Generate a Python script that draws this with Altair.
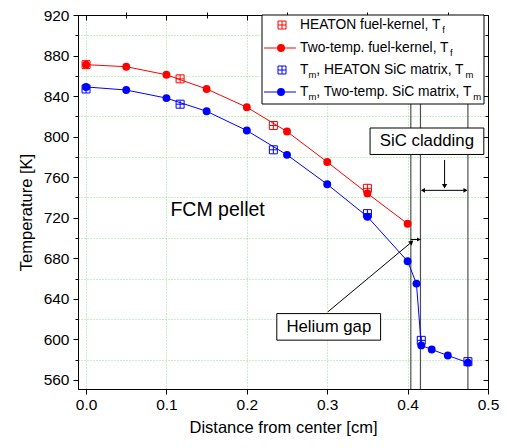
import altair as alt
import pandas as pd

# ---------------- data ----------------
x_tt_fuel = [0.0, 0.05, 0.10, 0.15, 0.20, 0.25, 0.30, 0.35, 0.40]
T_tt_fuel = [871, 869, 861, 847, 829, 805, 775, 744, 714]

x_tt_mat = [0.0, 0.05, 0.10, 0.15, 0.20, 0.25, 0.30, 0.35, 0.40, 0.411, 0.417, 0.43, 0.45, 0.475]
T_tt_mat = [849, 846, 838, 825, 806, 782, 753, 721, 677, 655, 594, 590, 584, 577]

x_h_fuel = [0.0, 0.117, 0.233, 0.35]
T_h_fuel = [871, 857, 811, 749]

x_h_mat = [0.0, 0.117, 0.233, 0.35, 0.417, 0.475]
T_h_mat = [847, 832, 787, 724, 599, 578]

boundaries = [0.404, 0.416, 0.475]

x_major = [0.0, 0.1, 0.2, 0.3, 0.4, 0.5]
x_grid = [0.0, 0.1, 0.2, 0.3, 0.4]
x_minor = [0.05, 0.15, 0.25, 0.35, 0.45]
y_major = [560, 600, 640, 680, 720, 760, 800, 840, 880, 920]
y_minor = [580, 620, 660, 700, 740, 780, 820, 860, 900]

legend_rows = [
    ("HEATON fuel-kernel, T", "f"),
    ("Two-temp. fuel-kernel, T", "f"),
    (", HEATON SiC matrix, T", "m"),
    (", Two-temp. SiC matrix, T", "m"),
]

RED = "#ff0000"
BLUE = "#0000ff"
GRID = "#86e486"
FONT = "Liberation Sans"

XS = alt.Scale(domain=[-0.01, 0.5], nice=False, zero=False)
YS = alt.Scale(domain=[551, 920], nice=False, zero=False)

SQ = "M-1,-1L1,-1L1,1L-1,1Z M0,-1L0,1 M-1,0L1,0"

def df(xs, ys):
    return pd.DataFrame({"x": xs, "y": ys})

def ax_hidden(**kw):
    base = dict(labels=False, title=None, domain=False, grid=False)
    base.update(kw)
    return alt.Axis(**base)

# ---- boundary lines (carry the vertical grid) ----
vrules = alt.Chart(pd.DataFrame({"x": boundaries})).mark_rule(
    color="#505050", strokeWidth=1.2
).encode(
    x=alt.X("x:Q", scale=XS,
            axis=ax_hidden(values=x_grid, ticks=False, grid=True, gridColor=GRID,
                           gridDash=[1, 2], gridWidth=1))
)

# ---- HEATON squares ----
red_sq = alt.Chart(df(x_h_fuel, T_h_fuel)).mark_point(
    shape=SQ, size=64, filled=False, color=RED, strokeWidth=1, opacity=1
).encode(
    x=alt.X("x:Q", scale=XS, axis=ax_hidden(values=x_minor, ticks=True, tickSize=3,
                                            tickColor="black")),
    y=alt.Y("y:Q", scale=YS, axis=ax_hidden(values=y_minor, ticks=True, tickSize=3,
                                            tickColor="black", grid=True, gridColor=GRID,
                                            gridDash=[1, 2], gridWidth=1)),
)

blue_sq = alt.Chart(df(x_h_mat, T_h_mat)).mark_point(
    shape=SQ, size=64, filled=False, color=BLUE, strokeWidth=1, opacity=1
).encode(
    x=alt.X("x:Q", scale=XS, axis=ax_hidden(orient="top", values=x_major, ticks=True,
                                            tickSize=5, offset=-5, tickColor="black")),
    y=alt.Y("y:Q", scale=YS, axis=ax_hidden(orient="right", values=y_major, ticks=True,
                                            tickSize=5, offset=-5, tickColor="black")),
)

# ---- two-temperature lines and points ----
red_line = alt.Chart(df(x_tt_fuel, T_tt_fuel)).mark_line(color=RED, strokeWidth=1).encode(
    x=alt.X("x:Q", scale=XS, axis=ax_hidden(orient="top", values=x_minor, ticks=True,
                                            tickSize=3, offset=-3, tickColor="black")),
    y=alt.Y("y:Q", scale=YS, axis=ax_hidden(orient="right", values=y_minor, ticks=True,
                                            tickSize=3, offset=-3, tickColor="black")),
)
red_pts = alt.Chart(df(x_tt_fuel, T_tt_fuel)).mark_point(
    shape="circle", size=62, filled=True, color=RED, opacity=1
).encode(
    x=alt.X("x:Q", scale=XS,
            axis=alt.Axis(values=x_major, format=".1f", title="Distance from center [cm]",
                          grid=False, tickSize=5, labelPadding=3, titlePadding=7,
                          labelFlush=False,
                          domainColor="black", tickColor="black", labelColor="black",
                          titleColor="black")),
    y=alt.Y("y:Q", scale=YS,
            axis=alt.Axis(values=y_major, format="d", title="Temperature [K]",
                          grid=False, tickSize=5, labelPadding=4, titlePadding=9,
                          labelFlush=False, titleY=197,
                          domainColor="black", tickColor="black", labelColor="black",
                          titleColor="black")),
)
blue_line = alt.Chart(df(x_tt_mat, T_tt_mat)).mark_line(color=BLUE, strokeWidth=1).encode(
    x=alt.X("x:Q", scale=XS, axis=None), y=alt.Y("y:Q", scale=YS, axis=None)
)
blue_pts = alt.Chart(df(x_tt_mat, T_tt_mat)).mark_point(
    shape="circle", size=62, filled=True, color=BLUE, opacity=1
).encode(
    x=alt.X("x:Q", scale=XS, axis=None), y=alt.Y("y:Q", scale=YS, axis=None)
)

# ---- annotations (data coordinates) ----
def seg(x1, y1, x2, y2):
    return alt.Chart(pd.DataFrame({"x": [x1], "y": [y1], "x2": [x2], "y2": [y2]})).mark_rule(
        color="black", strokeWidth=1
    ).encode(x=alt.X("x:Q", scale=XS, axis=None), y=alt.Y("y:Q", scale=YS, axis=None),
             x2="x2:Q", y2="y2:Q")

def head(x, y, shape, angle=0, size=28):
    return alt.Chart(df([x], [y])).mark_point(
        shape=shape, size=size, filled=True, color="black", opacity=1, angle=angle
    ).encode(x=alt.X("x:Q", scale=XS, axis=None), y=alt.Y("y:Q", scale=YS, axis=None))

def box(x1, x2, y1, y2):
    return alt.Chart(pd.DataFrame({"x": [x1], "x2": [x2], "y": [y1], "y2": [y2]})).mark_rect(
        fill="white", stroke="black", strokeWidth=1
    ).encode(x=alt.X("x:Q", scale=XS, axis=None), x2="x2:Q",
             y=alt.Y("y:Q", scale=YS, axis=None), y2="y2:Q")

def label(x, y, txt, size, align="center"):
    return alt.Chart(df([x], [y])).mark_text(
        text=txt, fontSize=size, align=align, baseline="middle", color="black", font=FONT
    ).encode(x=alt.X("x:Q", scale=XS, axis=None), y=alt.Y("y:Q", scale=YS, axis=None))

annots = [
    label(0.105, 728, "FCM pellet", 19.5, align="left"),
    box(0.3533, 0.4948, 782.4, 808.5),
    label(0.424, 795.5, "SiC cladding", 16.8),
    seg(0.446, 777, 0.446, 752),
    head(0.446, 751, "triangle-down"),
    seg(0.418, 747, 0.473, 747),
    head(0.419, 747, "triangle-left", size=22),
    head(0.472, 747, "triangle-right", size=22),
    seg(0.404, 698.5, 0.416, 698.5),
    head(0.414, 698.5, "triangle-right", size=18),
    seg(0.3006, 627, 0.405, 696),
    head(0.405, 696, "triangle-up", angle=50, size=26),
    box(0.2373, 0.3664, 599.2, 625.4),
    label(0.302, 612.3, "Helium gap", 16.8),
]

# ---- manual legend (pixel coordinates of the plot area) ----
W = {"T": 611, "m": 833, ",": 278, " ": 278, "H": 722, "E": 667, "A": 667, "O": 778,
     "N": 722, "S": 667, "i": 222, "C": 722, "a": 556, "t": 278, "r": 333, "x": 500,
     "f": 278, "u": 556, "e": 556, "l": 222, "-": 333, "k": 500, "n": 556, "w": 722,
     "o": 556, "p": 556, ".": 278}

def tw(s, size):
    return sum(W.get(c, 556) for c in s) / 1000.0 * size

one = pd.DataFrame({"a": [0]})
LF = 13.8
SF = 9.5
TX = 222
rows_y = [10, 33, 55, 77]

def ltext(x, y, txt, size):
    return alt.Chart(one).mark_text(
        text=txt, fontSize=size, align="left", baseline="middle", color="black", font=FONT
    ).encode(x=alt.value(x), y=alt.value(y))

leg = [alt.Chart(one).mark_rect(fill="white", stroke="black", strokeWidth=1).encode(
    x=alt.value(184), x2=alt.value(406), y=alt.value(0), y2=alt.value(89))]

for i, (txt, sub) in enumerate(legend_rows):
    y = rows_y[i]
    color = RED if i < 2 else BLUE
    if i % 2 == 0:
        leg.append(alt.Chart(one).mark_point(shape=SQ, size=64, filled=False, color=color,
                                             strokeWidth=1, opacity=1).encode(
            x=alt.value(204), y=alt.value(y)))
    else:
        leg.append(alt.Chart(one).mark_rule(color=color, strokeWidth=1).encode(
            x=alt.value(186), x2=alt.value(218), y=alt.value(y)))
        leg.append(alt.Chart(one).mark_point(shape="circle", size=62, filled=True,
                                             color=color, opacity=1).encode(
            x=alt.value(203), y=alt.value(y)))
    x0 = TX
    if i >= 2:
        leg.append(ltext(x0, y, "T", LF))
        x0 += tw("T", LF)
        leg.append(ltext(x0, y + 5, "m", SF))
        x0 += tw("m", SF)
    leg.append(ltext(x0, y, txt, LF))
    x0 += tw(txt, LF) + 0.5
    leg.append(ltext(x0, y + 5, sub, SF))

chart = alt.layer(
    vrules, red_sq, blue_sq, red_line, red_pts, blue_line, blue_pts, *annots, *leg
).resolve_axis(x="independent", y="independent").properties(
    width=410, height=374,
    autosize=alt.AutoSizeParams(type="none"),
    padding={"left": 70, "top": 7, "right": 11, "bottom": 51},
).configure_view(
    stroke="black", strokeWidth=1
).configure_axis(
    labelFont=FONT, titleFont=FONT, labelFontSize=15.5, titleFontSize=16.5,
    titleFontWeight="normal", domainWidth=1, tickWidth=1
)

chart.save("out.html", embed_options={"renderer": "svg", "actions": False})
